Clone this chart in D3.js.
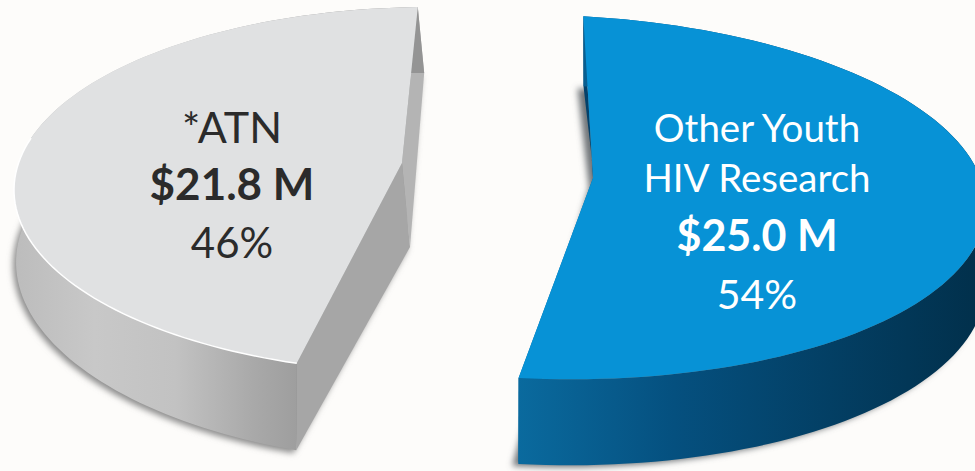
<!DOCTYPE html>
<html>
 <head>
  <meta charset="utf-8" />
  <title>Youth HIV research funding</title>
  <style>
   body, html {
    margin: 0;
    padding: 0;
    overflow: hidden;
    background-color: #fdfcfa;
   }
   svg {
    display: block;
   }
   text {
    font-family: Lato, sans-serif;
    text-anchor: middle;
   }
  </style>
  <script src="https://cdnjs.cloudflare.com/ajax/libs/d3/7.9.0/d3.min.js"></script>
 </head>
 <body>
  <svg width="975" height="471"></svg>
  <script>
   // values
   const categories = ["Other Youth HIV Research", "*ATN"];
   const amounts = [25.0, 21.8];
   const amountLabels = ["$25.0 M", "$21.8 M"];
   const percentLabels = ["54%", "46%"];
   const nameLines = [["Other Youth", "HIV Research"], ["*ATN"]];

   const deg = Math.PI / 180;

   // one look for each slice: ellipse of top face, ellipse of bottom face, apexes
   const looks = [
    {
     base: -86,
     squash: 0.932, // perspective eats a bit of the sweep
     top: {cx: 548, cy: 197, rx: 438, ry: 182, tilt: 1.5},
     bottom: {cx: 548, cy: 275, rx: 438, ry: 190, tilt: 1.5},
     apexTop: [593, 178],
     apexBottom: [595, 186],
     fill: "#0792d6",
     rear: "#03416a",
     cut: "#0a6a9e",
     wall: ["#0a6a9e", "#05507f", "#033f64", "#012f4a"],
     shadow: "#6f7478",
     shadowShift: "translate(-6,2)",
     highlight: null,
     text: "#ffffff",
     textX: 757,
     baselines: [142, 192, 251, 309],
     sizes: [38.5, 38.5, 43, 41]
    },
    {
     base: -74.4,
     squash: 0.952,
     top: {cx: 430, cy: 190, rx: 416, ry: 183, tilt: 0},
     bottom: {cx: 433, cy: 268, rx: 417, ry: 195, tilt: 1},
     apexTop: [402, 163],
     apexBottom: [410, 247],
     fill: "#e0e1e2",
     rear: "#a6a6a6",
     cut: "#b4b4b4",
     wall: ["#bcbcbc", "#c8c8c8", "#c2c2c2", "#a8a8a8", "#949494", "#949494"],
     shadow: "#8c8c8c",
     shadowShift: "translate(-3,3)",
     highlight: "#ffffff",
     text: "#2b2b2b",
     textX: 232,
     baselines: [143, 200, 258],
     sizes: [43, 44, 42]
    }
   ];

   const slices = d3.pie().sort(null)(amounts);

   function onEllipse(e, t) {
    const a = t * deg;
    const x = e.rx * Math.cos(a);
    const y = e.ry * Math.sin(a);
    const r = e.tilt * deg;
    return [e.cx + x * Math.cos(r) - y * Math.sin(r), e.cy + x * Math.sin(r) + y * Math.cos(r)];
   }

   function arcPoints(e, slice, look) {
    const from = look.base + look.squash * slice.startAngle / deg;
    const to = look.base + look.squash * slice.endAngle / deg;
    return d3.range(0, 101).map(i => onEllipse(e, from + (to - from) * i / 100));
   }

   const line = d3.line();
   const svg = d3.select("svg");
   const defs = svg.append("defs");

   defs.append("filter")
    .attr("id", "soft")
    .attr("x", "-10%").attr("y", "-10%").attr("width", "120%").attr("height", "120%")
    .append("feGaussianBlur")
    .attr("stdDeviation", 3);

   slices.forEach((slice, i) => {
    const look = looks[i];
    const topArc = arcPoints(look.top, slice, look);
    const bottomArc = arcPoints(look.bottom, slice, look);
    const g = svg.append("g").attr("class", "slice");

    const extent = d3.extent(topArc, d => d[0]);
    const grad = defs.append("linearGradient")
     .attr("id", "wall" + i)
     .attr("gradientUnits", "userSpaceOnUse")
     .attr("x1", extent[0]).attr("x2", extent[1])
     .attr("y1", 0).attr("y2", 0);
    look.wall.forEach((c, j) => {
     grad.append("stop")
      .attr("offset", j / (look.wall.length - 1))
      .attr("stop-color", c);
    });

    // shadow first, a little off the lower edge
    const firstBottom = bottomArc[0];
    const lastBottom = bottomArc[bottomArc.length - 1];
    g.append("path")
     .attr("d", line([look.apexBottom, ...bottomArc]) + "Z")
     .attr("transform", look.shadowShift)
     .attr("fill", look.shadow)
     .attr("filter", "url(#soft)");

    // cut faces
    g.append("path")
     .attr("d", line([topArc[0], firstBottom, look.apexBottom, look.apexTop]) + "Z")
     .attr("fill", look.rear);
    g.append("path")
     .attr("d", line([topArc[100], lastBottom, look.apexBottom, look.apexTop]) + "Z")
     .attr("fill", look.cut);

    // outer wall
    g.append("path")
     .attr("d", line([...topArc, ...bottomArc.slice().reverse()]) + "Z")
     .attr("fill", "url(#wall" + i + ")");

    // top face
    g.append("path")
     .attr("d", line([look.apexTop, ...topArc]) + "Z")
     .attr("fill", look.fill);

    // bright rim on the front of the top face
    if(look.highlight) {
     g.append("path")
      .attr("d", line(topArc.slice(0, 56)))
      .attr("fill", "none")
      .attr("stroke", look.highlight)
      .attr("stroke-width", 1.5);
    }

    // labels
    const rows = [
     ...nameLines[i].map(t => ({t: t, bold: false})),
     {t: amountLabels[i], bold: true},
     {t: percentLabels[i], bold: false}
    ];
    g.selectAll("text")
     .data(rows)
     .enter().append("text")
     .attr("x", look.textX)
     .attr("y", (d, j) => look.baselines[j])
     .attr("font-size", (d, j) => look.sizes[j])
     .attr("font-weight", d => d.bold ? 700 : 400)
     .attr("fill", look.text)
     .text(d => d.t);
   });
  </script>
 </body>
</html>
